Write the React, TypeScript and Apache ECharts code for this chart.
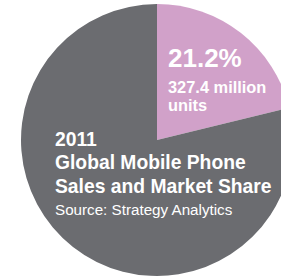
import React, { useEffect, useRef } from "react";
import * as echarts from "echarts";

const sliceNames = ["Share", "Rest"];
const sliceValues = [21.2, 78.8];
const sliceColors = ["#d1a1c9", "#6b6c70"];
const shareLabel = "21.2%";
const unitLines = ["327.4 million", "units"];
const titleLines = ["2011", "Global Mobile Phone", "Sales and Market Share"];
const sourceLine = "Source: Strategy Analytics";

const FONT = "'Liberation Sans', Arial, Helvetica, sans-serif";

function textAt(text: string, x: number, baseline: number, size: number, weight: string) {
  return {
    type: "text",
    x,
    y: baseline - size * 0.3465,
    z: 100,
    silent: true,
    style: {
      text,
      fill: "#ffffff",
      font: `${weight} ${size}px ${FONT}`,
      align: "left",
      verticalAlign: "middle",
    },
  };
}

function blockAt(lines: string[], x: number, firstBaseline: number, size: number, lh: number, weight: string) {
  return {
    type: "text",
    x,
    y: firstBaseline - size * 0.3465 - lh / 2,
    z: 100,
    silent: true,
    style: {
      text: lines.join("\n"),
      fill: "#ffffff",
      font: `${weight} ${size}px ${FONT}`,
      lineHeight: lh,
      align: "left",
      verticalAlign: "top",
    },
  };
}

export default function App() {
  const ref = useRef<HTMLDivElement>(null);
  useEffect(() => {
    if (!ref.current) return;
    const chart = echarts.init(ref.current, undefined, { renderer: "svg" });
    const graphics: any[] = [];
    graphics.push(textAt(shareLabel, 168, 67, 26, "bold"));
    graphics.push(textAt(unitLines[0], 168, 92.5, 16.4, "bold"));
    graphics.push(textAt(unitLines[1], 168, 111, 16.4, "bold"));
    graphics.push(blockAt(titleLines, 55, 146, 19.3, 23.5, "bold"));
    graphics.push(textAt(sourceLine, 55, 215, 15.2, "normal"));
    chart.setOption({
      animation: false,
      series: [
        {
          type: "pie",
          center: [157, 140],
          radius: [0, 136],
          startAngle: 90,
          clockwise: true,
          silent: true,
          z: 1,
          label: { show: false },
          labelLine: { show: false },
          itemStyle: { borderWidth: 0 },
          data: sliceNames.map((n, i) => ({
            name: n,
            value: sliceValues[i],
            itemStyle: { color: sliceColors[i] },
          })),
        },
      ],
      graphic: { elements: graphics },
    });
    return () => chart.dispose();
  }, []);
  return (
    <div
      ref={ref}
      style={{ position: "fixed", left: 0, top: 0, width: 281, height: 278, background: "#ffffff" }}
    />
  );
}
